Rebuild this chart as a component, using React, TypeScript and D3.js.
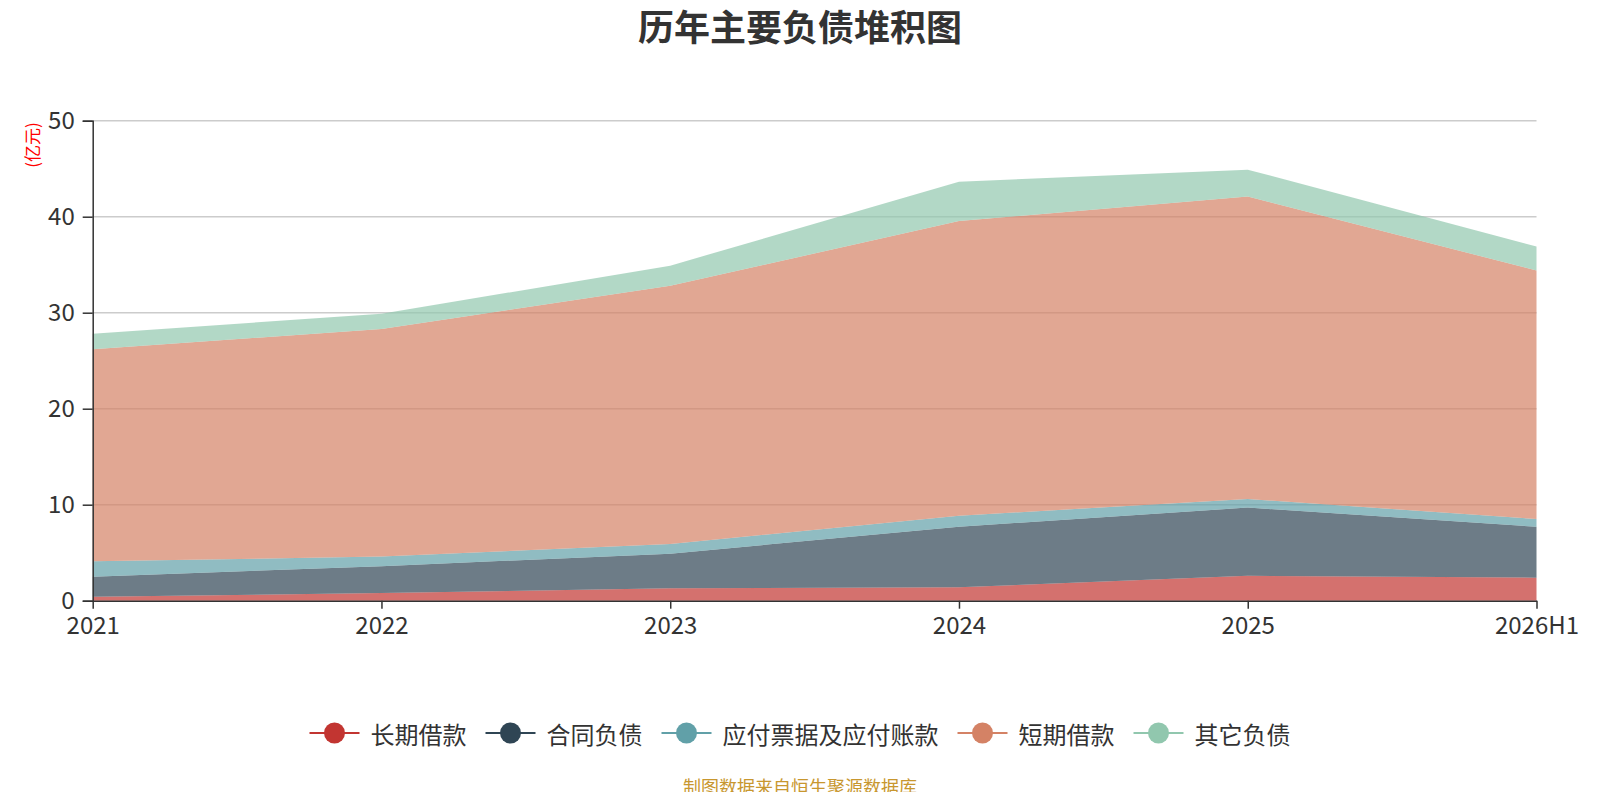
import React, { useEffect, useRef } from "react";
import * as d3 from "d3";

const years = ["2021", "2022", "2023", "2024", "2025", "2026H1"];
const seriesNames = ["长期借款", "合同负债", "应付票据及应付账款", "短期借款", "其它负债"];
const longLoan = [0.4, 0.8, 1.3, 1.4, 2.6, 2.4];
const contractDebt = [2.1, 2.8, 3.6, 6.3, 7.1, 5.3];
const payables = [1.6, 1.0, 1.0, 1.15, 0.9, 0.8];
const shortLoan = [22.1, 23.7, 26.9, 30.7, 31.5, 25.9];
const otherDebt = [1.6, 1.6, 2.1, 4.1, 2.8, 2.5];
const yTicks = [0, 10, 20, 30, 40, 50];
const colors = ["#c23531", "#2f4554", "#61a0a8", "#d48265", "#91c7ae"];

const W = 1600;
const H = 800;
const FONT = "'Noto Sans CJK SC', 'Noto Sans', sans-serif";

const App: React.FC = () => {
  const svgRef = useRef<SVGSVGElement | null>(null);

  useEffect(() => {
    if (!svgRef.current) return;
    const svg = d3.select(svgRef.current);
    svg.selectAll("*").remove();

    const margin = { top: 120.7, left: 92.7, right: 63.5, bottom: 199.3 };
    const x = d3.scalePoint<string>().domain(years).range([margin.left, W - margin.right]);
    const y = d3.scaleLinear().domain([0, 50]).range([H - margin.bottom, margin.top]);

    const allSeries = [longLoan, contractDebt, payables, shortLoan, otherDebt];
    const rows = years.map((yr, i) => {
      const r: Record<string, number | string> = { year: yr };
      seriesNames.forEach((n, k) => (r[n] = allSeries[k][i]));
      return r;
    });
    const stacked = d3.stack<Record<string, number | string>>().keys(seriesNames)(rows);

    // title
    svg.append("text")
      .attr("x", W / 2)
      .attr("y", 25)
      .attr("text-anchor", "middle")
      .attr("dominant-baseline", "central")
      .style("font-family", FONT)
      .style("font-size", "36px")
      .style("font-weight", "bold")
      .style("fill", "#333")
      .text("历年主要负债堆积图");

    // grid
    svg.append("g")
      .selectAll("line")
      .data(yTicks.filter((t) => t > 0))
      .join("line")
      .attr("x1", margin.left)
      .attr("x2", W - margin.right)
      .attr("y1", (d) => y(d))
      .attr("y2", (d) => y(d))
      .attr("stroke", "#ccc")
      .attr("stroke-width", 1.5);

    const area = d3.area<d3.SeriesPoint<Record<string, number | string>>>()
      .x((d) => x(d.data.year as string) ?? 0)
      .y0((d) => y(d[0]))
      .y1((d) => y(d[1]));

    svg.append("g")
      .selectAll("path")
      .data(stacked)
      .join("path")
      .attr("d", (d) => area(d) ?? "")
      .attr("fill", (_, i) => colors[i])
      .attr("fill-opacity", 0.7);

    // y axis
    const yAxis = svg.append("g")
      .attr("transform", `translate(${margin.left},0)`)
      .call(d3.axisLeft(y).tickValues(yTicks).tickSize(10).tickPadding(8));
    yAxis.select(".domain").attr("stroke", "#333").attr("stroke-width", 1.5);
    yAxis.selectAll(".tick line").attr("stroke", "#333").attr("stroke-width", 1.5);
    yAxis.selectAll("text")
      .style("font-family", FONT)
      .style("font-size", "24px")
      .style("fill", "#333");

    // x axis
    const xAxis = svg.append("g")
      .attr("transform", `translate(0,${H - margin.bottom})`)
      .call(d3.axisBottom(x).tickSizeInner(8).tickSizeOuter(0).tickPadding(8));
    xAxis.select(".domain").attr("stroke", "#333").attr("stroke-width", 1.5);
    xAxis.selectAll(".tick line").attr("stroke", "#333").attr("stroke-width", 1.5);
    xAxis.selectAll("text")
      .style("font-family", FONT)
      .style("font-size", "24px")
      .style("fill", "#333");

    // unit label
    svg.append("text")
      .attr("transform", "translate(31,145) rotate(-90)")
      .attr("text-anchor", "middle")
      .attr("dominant-baseline", "central")
      .style("font-family", FONT)
      .style("font-size", "17px")
      .style("fill", "#ff0000")
      .text("(亿元)");

    // legend
    const fs = 24;
    const gap = 19;
    const widths = seriesNames.map((n) => 61 + n.length * fs);
    const total = d3.sum(widths) + gap * (seriesNames.length - 1);
    let lx = W / 2 - total / 2;
    const ly = 733;
    const legend = svg.append("g");
    seriesNames.forEach((n, i) => {
      const g = legend.append("g").attr("transform", `translate(${lx},${ly})`);
      g.append("line")
        .attr("x1", 0).attr("x2", 50).attr("y1", 0).attr("y2", 0)
        .attr("stroke", colors[i]).attr("stroke-width", 2);
      g.append("circle").attr("cx", 25).attr("cy", 0).attr("r", 10.5).attr("fill", colors[i]);
      g.append("text")
        .attr("x", 61)
        .attr("y", 0)
        .attr("dominant-baseline", "central")
        .style("font-family", FONT)
        .style("font-size", `${fs}px`)
        .style("fill", "#333")
        .text(n);
      lx += widths[i] + gap;
    });

    // source
    svg.append("text")
      .attr("x", W / 2)
      .attr("y", 786)
      .attr("text-anchor", "middle")
      .attr("dominant-baseline", "central")
      .style("font-family", FONT)
      .style("font-size", "18px")
      .style("fill", "#c8972f")
      .text("制图数据来自恒生聚源数据库");
  }, []);

  return (
    <div style={{ width: W, height: H, margin: -8 }}>
      <svg ref={svgRef} width={W} height={H} style={{ display: "block", background: "#fff" }} />
    </div>
  );
};

export default App;
